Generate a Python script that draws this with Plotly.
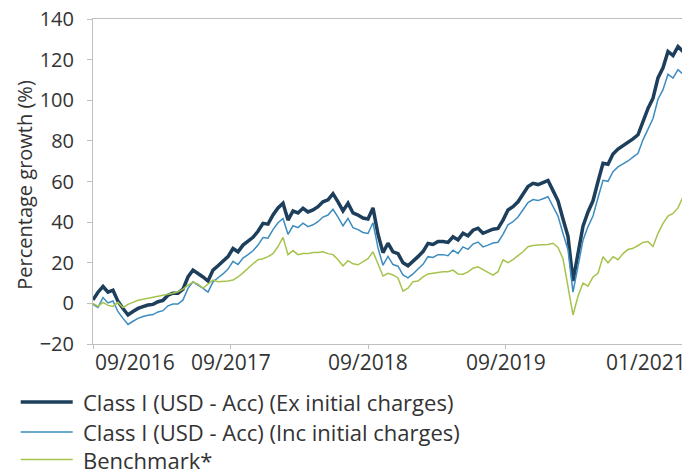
import pandas as pd
import plotly.graph_objects as go

# ---- data ----
start_date = "2016-09-01"
end_date = "2020-12-28"
n_points = 120

ex_charges = [
    1.7, 5.5, 8.3, 5.5, 6.5, 1.0, -2.5, -5.7, -4.0, -2.5,
    -1.6, -0.8, -0.5, 0.8, 1.5, 4.0, 5.0, 5.0, 7.0, 13.0,
    16.4, 14.8, 13.0, 11.0, 16.4, 18.5, 20.5, 23.0, 27.0, 25.4,
    28.7, 30.5, 32.5, 35.5, 39.4, 39.0, 43.5, 47.0, 49.3, 41.0,
    45.5, 44.5, 46.8, 45.0, 46.0, 47.6, 50.0, 51.0, 54.0, 50.0,
    45.5, 49.3, 44.5, 43.5, 42.0, 41.5, 47.0, 34.0, 25.0, 29.6,
    25.4, 24.5, 20.0, 18.5, 20.5, 23.0, 25.5, 29.5, 29.0, 30.5,
    30.5, 30.0, 32.8, 31.2, 34.5, 33.3, 36.0, 37.0, 34.5, 35.5,
    36.5, 36.9, 41.0, 46.0, 47.6, 50.0, 54.0, 57.5, 59.1, 58.5,
    59.5, 60.5, 55.5, 50.5, 41.5, 33.0, 11.0, 24.0, 38.0, 45.0,
    50.5, 60.0, 69.0, 68.5, 73.5, 76.0, 77.5, 79.0, 81.0, 83.0,
    90.0, 96.0, 101.0, 111.0, 116.0, 124.0, 122.0, 126.4, 124.0, 121.0,
]

inc_charges = [
    -0.5, -2.0, 2.9, 0.2, 1.2, -4.1, -7.4, -10.4, -8.8, -7.4,
    -6.5, -5.8, -5.5, -4.2, -3.6, -1.2, -0.3, -0.3, 1.7, 7.4,
    10.6, 9.1, 7.4, 5.5, 10.6, 12.6, 14.5, 16.9, 20.7, 19.1,
    22.3, 24.0, 25.9, 28.7, 32.4, 32.1, 36.3, 39.7, 41.8, 34.0,
    38.2, 37.3, 39.5, 37.8, 38.7, 40.2, 42.5, 43.5, 46.3, 42.5,
    38.2, 41.8, 37.3, 36.3, 34.9, 34.4, 39.7, 27.3, 18.8, 23.1,
    19.1, 18.3, 14.0, 12.6, 14.5, 16.9, 19.2, 23.0, 22.6, 24.0,
    24.0, 23.5, 26.2, 24.6, 27.8, 26.6, 29.2, 30.2, 27.8, 28.7,
    29.7, 30.1, 34.0, 38.7, 40.2, 42.5, 46.3, 49.6, 51.1, 50.6,
    51.5, 52.5, 47.7, 43.0, 34.4, 26.4, 5.5, 17.8, 31.1, 37.8,
    43.0, 52.0, 60.6, 60.1, 64.8, 67.2, 68.6, 70.1, 72.0, 73.9,
    80.5, 86.2, 91.0, 100.5, 105.2, 112.8, 110.9, 115.1, 112.8, 104.0,
]

benchmark = [
    0.0, -1.5, 0.5, -1.0, -1.5, 0.5, -2.0, -0.5, 0.5, 1.5,
    2.0, 2.5, 3.0, 3.3, 4.0, 4.5, 5.0, 5.7, 7.0, 9.0,
    10.5, 9.5, 7.5, 9.5, 11.5, 10.7, 10.7, 11.0, 11.5, 13.0,
    15.0, 17.5, 19.5, 21.5, 22.0, 23.0, 24.5, 28.0, 32.5, 24.0,
    26.0, 24.0, 24.5, 24.5, 25.0, 25.0, 25.4, 24.5, 24.0, 21.5,
    18.5, 21.0, 19.5, 19.0, 20.5, 22.0, 25.4, 19.0, 13.5, 14.8,
    14.0, 12.5, 6.0, 7.5, 10.7, 11.0, 13.0, 14.5, 14.8, 15.4,
    15.6, 15.6, 16.4, 14.5, 14.4, 15.5, 17.3, 18.0, 16.5, 15.0,
    13.9, 15.6, 21.4, 20.0, 21.5, 23.5, 25.4, 27.9, 28.5, 28.7,
    28.7, 29.0, 29.6, 27.5, 22.0, 9.0, -5.7, 3.5, 10.0, 8.5,
    13.0, 14.8, 23.0, 20.0, 23.0, 21.5, 24.5, 26.5, 27.1, 28.5,
    30.0, 30.4, 28.0, 34.5, 39.4, 43.0, 44.3, 47.0, 52.5, 48.0,
]

series_names = [
    "Class I (USD - Acc) (Ex initial charges)",
    "Class I (USD - Acc) (Inc initial charges)",
    "Benchmark*",
]
series_colors = ["#1d3f5c", "#3c8cbf", "#a5c34d"]
series_widths = [3.5, 1.5, 1.5]

x_tick_dates = ["2016-09-01", "2017-09-01", "2018-09-01", "2019-09-01", "2020-12-28"]
x_tick_labels = ["09/2016", "09/2017", "09/2018", "09/2019", "01/2021"]
y_tick_values = [-20, 0, 20, 40, 60, 80, 100, 120, 140]
y_title = "Percentage growth (%)"

dates = pd.date_range(start_date, end_date, periods=n_points)

# ---- figure ----
FONT = "Open Sans"
TEXT = "#333333"
AXIS = "#bfbfbf"

fig = go.Figure()
for vals, name, col, w in zip([ex_charges, inc_charges, benchmark],
                              series_names, series_colors, series_widths):
    fig.add_trace(go.Scatter(x=dates, y=vals, mode="lines", name=name,
                             line=dict(color=col, width=w), showlegend=False))

# x tick labels (first label starts at the axis, last one ends at the edge)
anchors = ["left", "center", "center", "center", "right"]
for d, lab, anc in zip(x_tick_dates, x_tick_labels, anchors):
    fig.add_annotation(x=d, y=-0.055, xref="x", yref="paper", text=lab,
                       showarrow=False, xanchor=anc, yanchor="middle",
                       font=dict(family=FONT, size=21, color=TEXT))

# y axis title
fig.add_annotation(x=-0.1143, y=0.49, xref="paper", yref="paper", text=y_title,
                   textangle=-90, showarrow=False, xanchor="center", yanchor="middle",
                   font=dict(family=FONT, size=20, color=TEXT))

# legend (below the plot)
legend_rows_y = [-0.1785, -0.2708, -0.3554]
for name, col, w, ly in zip(series_names, series_colors, series_widths, legend_rows_y):
    fig.add_shape(type="line", xref="paper", yref="paper",
                  x0=-0.1215, x1=-0.0341, y0=ly, y1=ly,
                  line=dict(color=col, width=w))
    fig.add_annotation(x=-0.020, y=ly, xref="paper", yref="paper", text=name,
                       showarrow=False, xanchor="left", yanchor="middle",
                       font=dict(family=FONT, size=22, color=TEXT))

fig.update_layout(
    width=690, height=470,
    margin=dict(l=85, r=10, t=11, b=134, autoexpand=False),
    paper_bgcolor="white", plot_bgcolor="white",
    font=dict(family=FONT, size=20, color=TEXT),
    showlegend=False,
    xaxis=dict(range=[start_date, end_date], showgrid=False, zeroline=False,
               showline=True, linecolor=AXIS, linewidth=1, mirror=True,
               tickvals=x_tick_dates, ticks="outside", ticklen=4, tickcolor=AXIS,
               showticklabels=False),
    yaxis=dict(range=[-20, 140], tickvals=y_tick_values, showgrid=False, zeroline=False,
               showline=True, linecolor=AXIS, linewidth=1, mirror=True,
               ticks="outside", ticklen=5, tickcolor=AXIS, ticklabelstandoff=9,
               ticklabeloverflow="allow",
               tickfont=dict(family=FONT, size=20, color=TEXT)),
)

fig.write_html("out.html")
